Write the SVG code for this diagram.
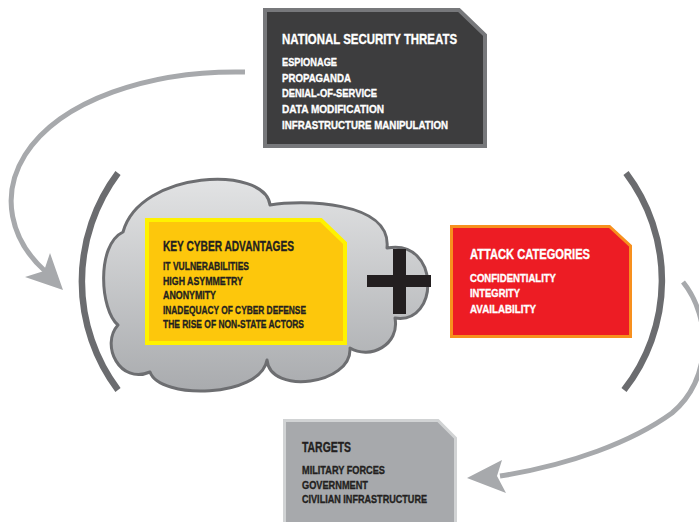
<svg xmlns="http://www.w3.org/2000/svg" width="699" height="522" viewBox="0 0 699 522">
<style>
.t{font-family:"Liberation Sans Narrow","Liberation Sans",Arial,sans-serif;font-weight:bold;stroke-width:0.35px}
.h{font-size:14.5px}
.i{font-size:11.5px}
.w{fill:#ffffff;stroke:#ffffff}
.k{fill:#231f20;stroke:#231f20}
.conn{fill:none;stroke:#a7a9ac;stroke-width:5}
.head{fill:#a7a9ac}
.paren{fill:none;stroke:#6b6c6f;stroke-width:6.5}
</style>
<defs>
<linearGradient id="cg" x1="0" y1="0" x2="0" y2="1">
<stop offset="0" stop-color="#e2e3e4"/>
<stop offset="1" stop-color="#a9abae"/>
</linearGradient>
</defs>
<rect width="699" height="522" fill="#ffffff"/>

<g id="connectors">
<path class="conn" d="M245,72 C150,70 60,100 25,155 C0,195 10,240 46,272"/>
<polygon class="head" points="63,290 25,277 44,271 50,253"/>
<path class="conn" d="M683,282 C712,318 712,380 672,413 C632,442 570,465 500,476"/>
<polygon class="head" points="467,478 502,460 497,476 506,493"/>
</g>

<g id="brackets">
<path class="paren" d="M118,173 A181,181 0 0 0 118,390"/>
<path class="paren" d="M626,173 A178,178 0 0 1 624,390"/>
</g>

<g id="threats">
<polygon points="265,10 459,10 485,35 485,146 265,146" fill="#3d3d3e" stroke="#77787b" stroke-width="4"/>
<text class="t h w" x="282" y="43.5" textLength="175" lengthAdjust="spacingAndGlyphs">NATIONAL SECURITY THREATS</text>
<text class="t i w" x="282" y="65.5" textLength="55" lengthAdjust="spacingAndGlyphs">ESPIONAGE</text>
<text class="t i w" x="282" y="81.5" textLength="69" lengthAdjust="spacingAndGlyphs">PROPAGANDA</text>
<text class="t i w" x="282" y="97" textLength="95" lengthAdjust="spacingAndGlyphs">DENIAL-OF-SERVICE</text>
<text class="t i w" x="282" y="112.5" textLength="102" lengthAdjust="spacingAndGlyphs">DATA MODIFICATION</text>
<text class="t i w" x="282" y="128.5" textLength="166" lengthAdjust="spacingAndGlyphs">INFRASTRUCTURE MANIPULATION</text>
</g>

<g id="advantages">
<path d="M123,232 C140,170 265,165 270,205 C300,200 392,200 387,248 C440,238 440,325 395,318 C400,345 370,360 350,348 C352,385 270,395 267,360 C260,398 160,400 150,372 C120,385 100,345 118,325 C100,310 96,245 123,232 Z" fill="url(#cg)" stroke="#6d6e71" stroke-width="3" stroke-linejoin="round"/>
<polygon points="147,220 321,220 345,243 345,343 147,343" fill="#fdc70c" stroke="#fff200" stroke-width="4"/>
<text class="t h k" x="163" y="251" textLength="131" lengthAdjust="spacingAndGlyphs">KEY CYBER ADVANTAGES</text>
<text class="t i k" x="163" y="270" textLength="86" lengthAdjust="spacingAndGlyphs">IT VULNERABILITIES</text>
<text class="t i k" x="163" y="284.5" textLength="80" lengthAdjust="spacingAndGlyphs">HIGH ASYMMETRY</text>
<text class="t i k" x="163" y="299" textLength="53" lengthAdjust="spacingAndGlyphs">ANONYMITY</text>
<text class="t i k" x="163" y="313.5" textLength="143" lengthAdjust="spacingAndGlyphs">INADEQUACY OF CYBER DEFENSE</text>
<text class="t i k" x="163" y="328" textLength="141" lengthAdjust="spacingAndGlyphs">THE RISE OF NON-STATE ACTORS</text>
</g>

<g id="plus">
<rect x="393" y="249" width="13" height="65" fill="#231f20"/>
<rect x="367" y="275" width="64" height="12" fill="#231f20"/>
</g>

<g id="attack">
<polygon points="451.5,226.5 609.5,226.5 630.5,246 630.5,336.5 451.5,336.5" fill="#ed1c24" stroke="#f7901e" stroke-width="3"/>
<text class="t h w" x="470" y="259.3" textLength="120" lengthAdjust="spacingAndGlyphs">ATTACK CATEGORIES</text>
<text class="t i w" x="470" y="281.7" textLength="86" lengthAdjust="spacingAndGlyphs">CONFIDENTIALITY</text>
<text class="t i w" x="470" y="297.3" textLength="50" lengthAdjust="spacingAndGlyphs">INTEGRITY</text>
<text class="t i w" x="470" y="313.3" textLength="66" lengthAdjust="spacingAndGlyphs">AVAILABILITY</text>
</g>

<g id="targets">
<polygon points="284.5,420.5 438,420.5 455.5,438 455.5,530 284.5,530" fill="#a7a9ac" stroke="#d1d3d4" stroke-width="3"/>
<text class="t h k" x="302" y="452" textLength="49" lengthAdjust="spacingAndGlyphs">TARGETS</text>
<text class="t i k" x="302" y="474" textLength="83" lengthAdjust="spacingAndGlyphs">MILITARY FORCES</text>
<text class="t i k" x="302" y="489" textLength="66" lengthAdjust="spacingAndGlyphs">GOVERNMENT</text>
<text class="t i k" x="302" y="503" textLength="125" lengthAdjust="spacingAndGlyphs">CIVILIAN INFRASTRUCTURE</text>
</g>
</svg>
